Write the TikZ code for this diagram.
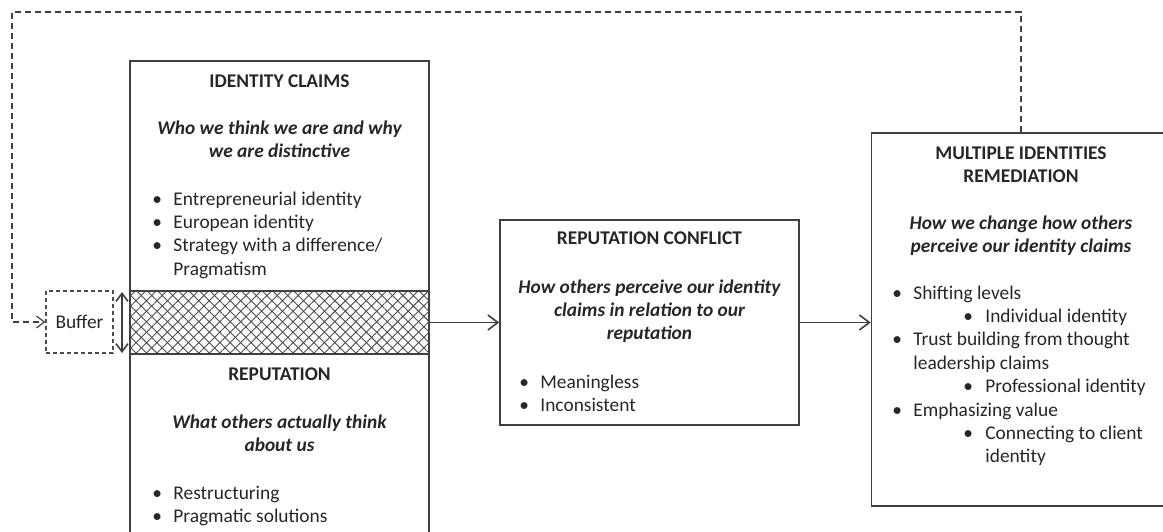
\documentclass[tikz,border=0pt]{standalone}
\usepackage{fontspec}
\setmainfont{Carlito}
\usetikzlibrary{arrows.meta,patterns.meta}

\newcommand{\bul}[1]{\makebox[10.5pt][l]{\textbullet}#1}
\newcommand{\subbul}[1]{\hspace*{35.5pt}\makebox[11pt][l]{\textbullet}#1}
\newcommand{\cont}[1]{\hspace*{10.5pt}#1}
\newcommand{\subcont}[1]{\hspace*{46.5pt}#1}

\begin{document}
\begin{tikzpicture}[x=0.5pt,y=-0.5pt,
  every node/.style={font=\fontsize{9.7}{11.7}\selectfont,text=black!85},
  box/.style={draw=black!75,line width=0.8pt,minimum width=149.5pt,inner sep=0pt},
  hatch/.style={pattern={Lines[angle=45,distance=3.7pt,line width=0.45pt]},pattern color=black!70,
    postaction={pattern={Lines[angle=-45,distance=3.7pt,line width=0.45pt]},pattern color=black!70}},
  bufferbox/.style={draw=black!70,line width=0.6pt,dash pattern=on 2pt off 1.5pt,
    minimum width=33.5pt,minimum height=31pt,inner sep=0pt},
  title/.style={anchor=base,font=\fontsize{9.7}{11.7}\selectfont\bfseries,align=center},
  sub/.style={anchor=base,font=\fontsize{9.7}{11.7}\selectfont\bfseries\itshape,align=center},
  lst/.style={anchor=base west,align=left,inner sep=0pt},
  flow/.style={draw=black!75,line width=0.8pt,-{Straight Barb[length=5pt,width=7.5pt]}},
  feedback/.style={draw=black!75,line width=0.6pt,dash pattern=on 3pt off 2pt,
    -{Straight Barb[length=4pt,width=6pt]}}]

\useasboundingbox (0,0) rectangle (1163,531);
\clip (0,0) rectangle (1163,531);

% left column (base anchors of the text blocks sit on their last line)
\node[box,minimum height=115pt] (claims) at (279.5,176) {};
\node[box,minimum height=31.5pt,hatch] (band) at (279.5,322.5) {};
\node[box,minimum height=95.5pt] (reput) at (279.5,449.5) {};

\node[title] (claimstitle) at (279.5,87) {IDENTITY CLAIMS};
\node[sub] (claimssub) at (279.5,157.4) {Who we think we are and why\\we are distinctive};
\node[lst] (claimslist) at (152,275.2) {\bul{Entrepreneurial identity}\\\bul{European identity}\\
  \bul{Strategy with a difference/}\\\cont{Pragmatism}};

\node[title] (reputtitle) at (279.5,380) {REPUTATION};
\node[sub] (reputsub) at (279.5,451.4) {What others actually think\\about us};
\node[lst] (reputlist) at (152,522.4) {\bul{Restructuring}\\\bul{Pragmatic solutions}};

% buffer
\node[bufferbox] (buffer) at (79.5,322) {Buffer};
\coordinate (buftop) at (122,292);
\coordinate (bufbot) at (122,353);
\draw[flow,{Straight Barb[length=4pt,width=6pt]}-{Straight Barb[length=4pt,width=6pt]}] (buftop) -- (bufbot);

% conflict
\node[box,minimum height=102.5pt] (conflict) at (649.5,322.5) {};
\node[title] (conflicttitle) at (649.5,244) {REPUTATION CONFLICT};
\node[sub] (conflictsub) at (649.5,339.8) {How others perceive our identity\\claims in relation to our\\reputation};
\node[lst] (conflictlist) at (519,411.4) {\bul{Meaningless}\\\bul{Inconsistent}};

% remediation
\node[box,minimum height=186.5pt] (remed) at (1021,319.5) {};
\node[title] (remedtitle) at (1021,182.4) {MULTIPLE IDENTITIES\\REMEDIATION};
\node[sub] (remedsub) at (1021,252.4) {How we change how others\\perceive our identity claims};
\node[lst] (remedlist) at (892,462.8) {\bul{Shifting levels}\\\subbul{Individual identity}\\
  \bul{Trust building from thought}\\\cont{leadership claims}\\\subbul{Professional identity}\\
  \bul{Emphasizing value}\\\subbul{Connecting to client}\\\subcont{identity}};

\draw[flow] (band.east) -- (conflict.west);
\draw[flow] (conflict.east) -- (remed.west |- conflict.east);

\coordinate (fbright) at (1021,12);
\coordinate (fbleft) at (12,12);
\draw[feedback] (remed.north) -- (fbright) -- (fbleft) |- (buffer.west);

\end{tikzpicture}
\end{document}
